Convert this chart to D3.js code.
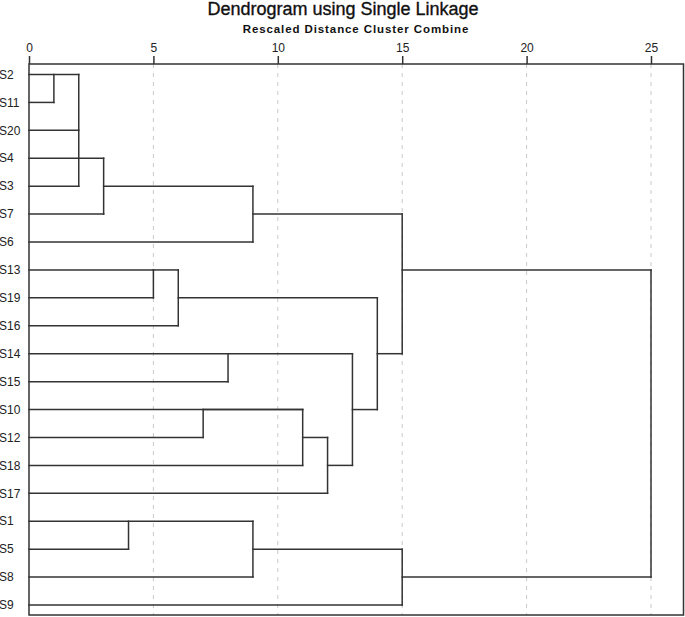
<!DOCTYPE html>
<html><head><meta charset="utf-8">
<script src="https://cdn.jsdelivr.net/npm/d3@7"></script>
<style>body{margin:0;background:#fff}svg{display:block}</style>
</head><body>
<svg id="c" width="685" height="617"></svg>
<script>
const leaves = ["S2","S11","S20","S4","S3","S7","S6","S13","S19","S16","S14","S15","S10","S12","S18","S17","S1","S5","S8","S9"];
const leafEnd = [2,1,2,3,2,3,9,5,5,6,13,8,11,7,11,12,9,4,9,15];
// vertical joins: distance, from row, to row
const vDist = [1,2,3,9,5,6,8,7,11,12,13,14,15,4,9,15,25];
const vFrom = [0,0,3,4,7,7,10,12,12,13,10,8,5,16,16,17,7];
const vTo   = [1,4,5,6,8,9,11,13,14,15,14,12,10,17,18,19,18];
// horizontal connectors: row, from distance, to distance
const hRow  = [4,5,7,8,12,13,14,12,10,7,17,18];
const hFrom = [3,9,5,6,7,11,12,13,14,15,9,15];
const hTo   = [9,15,6,14,11,12,13,14,15,25,15,25];
const ticks = [0,5,10,15,20,25];

const svg = d3.select("#c");
const x = d3.scaleLinear().domain([0,25]).range([29,651]);
const y = d3.scalePoint().domain(d3.range(leaves.length)).range([74.5,605]);
const plotTop = 64, plotBottom = 615, plotRight = 683.5;
const font = "'Liberation Sans', Arial, sans-serif";

svg.append("text").attr("x",343).attr("y",14.5).attr("text-anchor","middle")
  .attr("font-family",font).attr("font-size",18).attr("fill","#111")
  .attr("stroke","#111").attr("stroke-width",0.35)
  .text("Dendrogram using Single Linkage");
svg.append("text").attr("x",356).attr("y",33).attr("text-anchor","middle")
  .attr("font-family",font).attr("font-size",11.5).attr("font-weight","bold").attr("fill","#111")
  .attr("letter-spacing",0.9)
  .text("Rescaled Distance Cluster Combine");

// grid
svg.append("g").selectAll("line").data(ticks.filter(t=>t>0)).join("line")
  .attr("x1",d=>x(d)).attr("x2",d=>x(d)).attr("y1",plotTop).attr("y2",plotBottom)
  .attr("stroke","#c8c8c8").attr("stroke-width",1).attr("stroke-dasharray","4,5");

// axis
const ax = svg.append("g").attr("transform",`translate(0,${plotTop})`)
  .call(d3.axisTop(x).tickValues(ticks).tickSize(8).tickPadding(4).tickFormat(d3.format("d")));
ax.select(".domain").remove();
ax.selectAll("line").attr("stroke","#333").attr("stroke-width",1.5);
ax.selectAll("text").attr("font-family",font).attr("font-size",12).attr("fill","#222");

// frame
svg.append("rect").attr("x",x(0)).attr("y",plotTop).attr("width",plotRight-x(0)).attr("height",plotBottom-plotTop)
  .attr("fill","none").attr("stroke","#333").attr("stroke-width",1.5);

const g = svg.append("g").attr("stroke","#333").attr("stroke-width",1.5).attr("stroke-linecap","square");
g.selectAll(".leaf").data(leafEnd).join("line").attr("class","leaf")
  .attr("x1",x(0)).attr("x2",d=>x(d)).attr("y1",(d,i)=>y(i)).attr("y2",(d,i)=>y(i));
g.selectAll(".v").data(vDist).join("line").attr("class","v")
  .attr("x1",d=>x(d)).attr("x2",d=>x(d)).attr("y1",(d,i)=>y(vFrom[i])).attr("y2",(d,i)=>y(vTo[i]));
g.selectAll(".h").data(hRow).join("line").attr("class","h")
  .attr("x1",(d,i)=>x(hFrom[i])).attr("x2",(d,i)=>x(hTo[i])).attr("y1",d=>y(d)).attr("y2",d=>y(d));

svg.append("g").selectAll("text").data(leaves).join("text")
  .attr("x",-1).attr("y",(d,i)=>y(i)).attr("dy","0.35em")
  .attr("font-family",font).attr("font-size",12).attr("fill","#222").text(d=>d);
</script>
</body></html>
